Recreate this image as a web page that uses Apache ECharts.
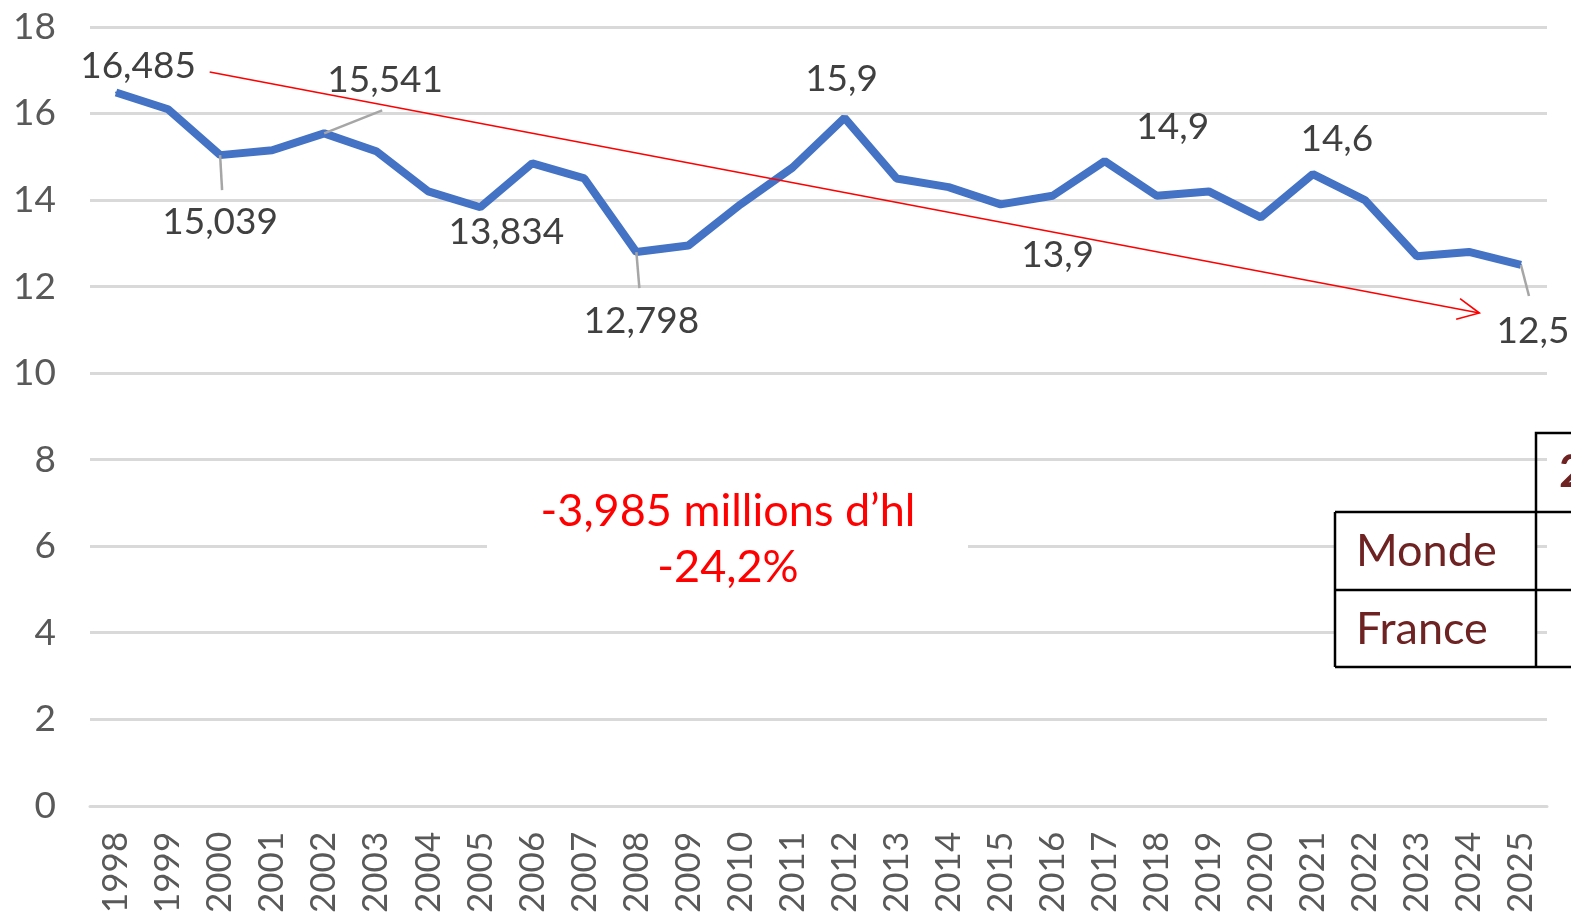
<!DOCTYPE html>
<html>
<head>
<meta charset="utf-8">
<script src="https://cdn.jsdelivr.net/npm/echarts@6/dist/echarts.min.js"></script>
<style>
    html, body { margin: 0; padding: 0; background: #fff; }
    #chart { width: 1571px; height: 916px; }
</style>
</head>
<body>
<div id="chart"></div>
<script>
// années
const years = ['1998', '1999', '2000', '2001', '2002', '2003', '2004', '2005', '2006', '2007',
    '2008', '2009', '2010', '2011', '2012', '2013', '2014', '2015', '2016', '2017',
    '2018', '2019', '2020', '2021', '2022', '2023', '2024', '2025'];
// millions d'hl
const volumes = [16.485, 16.1, 15.039, 15.15, 15.541, 15.13, 14.2, 13.834, 14.85, 14.5,
    12.798, 12.95, 13.9, 14.75, 15.9, 14.5, 14.3, 13.9, 14.1, 14.9,
    14.1, 14.2, 13.6, 14.6, 14.0, 12.7, 12.8, 12.5];
const yTicks = [0, 2, 4, 6, 8, 10, 12, 14, 16, 18];
// points étiquetés
const labelled = [0, 2, 4, 7, 10, 14, 17, 19, 23, 27];
// flèche de tendance (index année, valeur)
const trendStart = [1.8, 16.96];
const trendEnd = [26.2, 11.39];
const noteLines = ['-3,985 millions d\u2019hl', '-24,2%'];
const tableRows = ['Monde', 'France'];

// décalage des étiquettes (px)
const labelShift = {
    0: [22, -26], 2: [0, 67], 4: [61, -53], 7: [26, 25], 10: [5, 69],
    14: [-3, -39], 17: [57, 51], 19: [68, -34], 23: [24, -35], 27: [12, 66]
};
// traits de rappel (px depuis le point)
const leaderEnd = {2: [2, 35], 4: [58, -23], 10: [3, 36], 27: [8, 31]};

const FONT = 'Lato';
const chart = echarts.init(document.getElementById('chart'));

const seriesData = volumes.map((v, i) => {
    if (labelled.indexOf(i) < 0) return v;
    return {value: v, label: {show: true}};
});

chart.setOption({
    animation: false,
    grid: {left: 90, right: 24, top: 27, bottom: 110},
    xAxis: {
        type: 'category',
        data: years,
        boundaryGap: true,
        axisTick: {show: false},
        axisLine: {show: true, lineStyle: {color: '#d9d9d9', width: 3}},
        axisLabel: {
            rotate: 90, interval: 0, margin: 26,
            fontFamily: FONT, fontSize: 35, color: '#595959'
        }
    },
    yAxis: {
        type: 'value',
        min: yTicks[0],
        max: yTicks[yTicks.length - 1],
        interval: 2,
        axisLine: {show: false},
        axisTick: {show: false},
        axisLabel: {margin: 34, fontFamily: FONT, fontSize: 37, color: '#595959'},
        splitLine: {lineStyle: {color: '#d9d9d9', width: 3}}
    },
    series: [{
        type: 'line',
        data: seriesData,
        symbol: 'circle',
        symbolSize: 2,
        showSymbol: true,
        itemStyle: {color: '#4472c4'},
        lineStyle: {color: '#4472c4', width: 8},
        label: {
            show: false,
            position: 'inside',
            fontFamily: FONT,
            fontSize: 37,
            color: '#404040',
            formatter: p => String(p.value).replace('.', ',')
        },
        labelLayout: function (params) {
            const s = labelShift[params.dataIndex];
            return s ? {dx: s[0], dy: s[1]} : {};
        },
        z: 3
    }]
});

// position en pixels d'un index fractionnaire
function toPx(pt) {
    const i0 = Math.floor(pt[0]);
    const a = chart.convertToPixel({gridIndex: 0}, [i0, pt[1]]);
    const b = chart.convertToPixel({gridIndex: 0}, [i0 + 1, pt[1]]);
    const f = pt[0] - i0;
    return [a[0] + (b[0] - a[0]) * f, a[1]];
}

const p1 = toPx(trendStart);
const p2 = toPx(trendEnd);
const ang = Math.atan2(p2[1] - p1[1], p2[0] - p1[0]);
const head = 24, spread = 0.45;
const h1 = [p2[0] - head * Math.cos(ang - spread), p2[1] - head * Math.sin(ang - spread)];
const h2 = [p2[0] - head * Math.cos(ang + spread), p2[1] - head * Math.sin(ang + spread)];

const leaders = Object.keys(leaderEnd).map(k => {
    const i = +k;
    const p = chart.convertToPixel({gridIndex: 0}, [i, volumes[i]]);
    const e = leaderEnd[k];
    return {
        type: 'line', z: 4,
        shape: {x1: p[0], y1: p[1], x2: p[0] + e[0], y2: p[1] + e[1]},
        style: {stroke: '#a6a6a6', lineWidth: 2.5}
    };
});

const tableColor = '#6e2222';
chart.setOption({
    graphic: leaders.concat([
        {type: 'line', z: 10, shape: {x1: p1[0], y1: p1[1], x2: p2[0], y2: p2[1]},
            style: {stroke: '#ff0000', lineWidth: 1.6}},
        {type: 'polyline', z: 10, shape: {points: [h1, p2, h2]},
            style: {stroke: '#ff0000', lineWidth: 1.6, fill: null}},
        // encadré texte
        {type: 'rect', z: 5, shape: {x: 487, y: 478, width: 481, height: 127}, style: {fill: '#fff'}},
        {type: 'text', z: 6, x: 728, y: 511,
            style: {text: noteLines[0], fill: '#ff0000', font: '45px ' + FONT, align: 'center', verticalAlign: 'middle'}},
        {type: 'text', z: 6, x: 728, y: 567,
            style: {text: noteLines[1], fill: '#ff0000', font: '45px ' + FONT, align: 'center', verticalAlign: 'middle'}},
        // tableau
        {type: 'rect', z: 5, shape: {x: 1335, y: 512, width: 201, height: 155}, style: {fill: '#fff'}},
        {type: 'polyline', z: 7, shape: {points: [[1536, 667], [1536, 433], [1575, 433]]},
            style: {stroke: '#000', lineWidth: 2.5, fill: null}},
        {type: 'line', z: 7, shape: {x1: 1335, y1: 512, x2: 1575, y2: 512}, style: {stroke: '#000', lineWidth: 2.5}},
        {type: 'line', z: 7, shape: {x1: 1335, y1: 590, x2: 1575, y2: 590}, style: {stroke: '#000', lineWidth: 2.5}},
        {type: 'line', z: 7, shape: {x1: 1335, y1: 667, x2: 1575, y2: 667}, style: {stroke: '#000', lineWidth: 2.5}},
        {type: 'line', z: 7, shape: {x1: 1335, y1: 512, x2: 1335, y2: 667}, style: {stroke: '#000', lineWidth: 2.5}},
        {type: 'text', z: 8, x: 1356, y: 551,
            style: {text: tableRows[0], fill: tableColor, font: '45px ' + FONT, verticalAlign: 'middle'}},
        {type: 'text', z: 8, x: 1356, y: 629,
            style: {text: tableRows[1], fill: tableColor, font: '45px ' + FONT, verticalAlign: 'middle'}},
        {type: 'text', z: 8, x: 1559, y: 472,
            style: {text: '2', fill: tableColor, font: 'bold 45px ' + FONT, verticalAlign: 'middle'}}
    ])
});

window.addEventListener('resize', () => {
    chart.resize()
})
</script>
</body>
</html>
